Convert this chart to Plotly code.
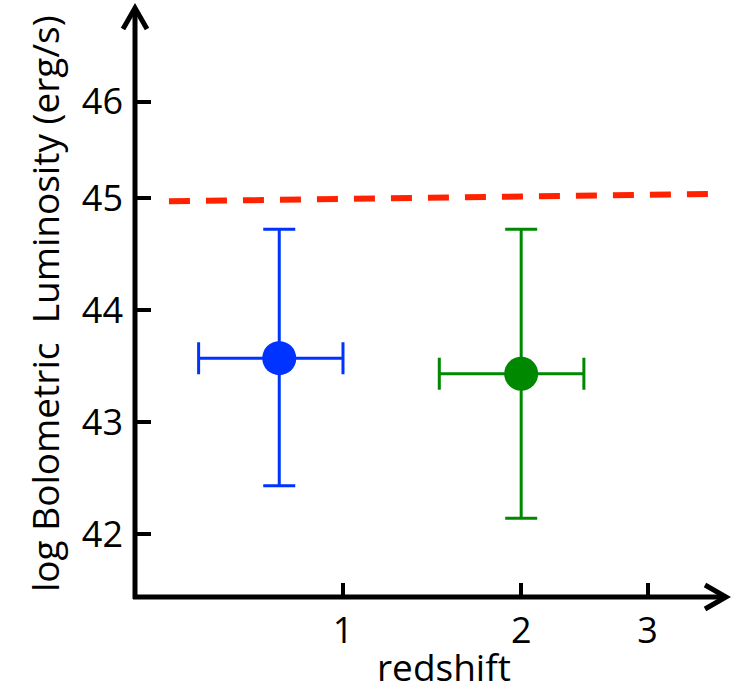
import math
import plotly.graph_objects as go

# ---- data ----
redshift = [0.73, 2.0]
redshift_lo = [0.44, 1.49]
redshift_hi = [1.0, 2.46]
log_lbol = [43.57, 43.43]
log_lbol_lo = [42.43, 42.14]
log_lbol_hi = [44.72, 44.72]
colors = ["rgb(0,51,255)", "rgb(0,136,0)"]

limit_z = [0.346, 3.62]
limit_l = [44.97, 45.035]

xtick_z = [1, 2, 3]
xtick_text = ["1", "2", "3"]
ytick_vals = [42, 43, 44, 45, 45.86]
ytick_text = ["42", "43", "44", "45", "46"]

x_title = "redshift"
y_title = "log Bolometric  Luminosity (erg/s)"

# ---- layout geometry (pixels) ----
W, H = 731, 694
L, R, T, B = 135, 4, 8, 97
X0, X1, Y0, Y1 = L, W - R, T, H - B
XR = [0.0955, 0.6805]          # log10(1+z) range
YR = [41.4375, 46.696]


def px(x, y):
    return (x - X0) / (X1 - X0), (Y1 - y) / (Y1 - Y0)


FONT = "Open Sans"
fig = go.Figure()

# upper-limit dashed line
fig.add_trace(go.Scatter(
    x=[1 + z for z in limit_z], y=limit_l, mode="lines",
    line=dict(color="rgb(255,34,0)", width=6, dash="21px,16px"),
    showlegend=False, hoverinfo="skip"))

for i in range(len(redshift)):
    xc = 1 + redshift[i]
    fig.add_trace(go.Scatter(
        x=[xc], y=[log_lbol[i]], mode="markers",
        marker=dict(size=34, color=colors[i]),
        error_x=dict(type="data", symmetric=False,
                     array=[redshift_hi[i] - redshift[i]],
                     arrayminus=[redshift[i] - redshift_lo[i]],
                     color=colors[i], thickness=3, width=16),
        error_y=dict(type="data", symmetric=False,
                     array=[log_lbol_hi[i] - log_lbol[i]],
                     arrayminus=[log_lbol[i] - log_lbol_lo[i]],
                     color=colors[i], thickness=3, width=16),
        showlegend=False, cliponaxis=False))

shapes = []
def seg(pts, width=5):
    d = ""
    for k, (x, y) in enumerate(pts):
        a, b = px(x, y)
        d += ("M" if k == 0 else "L") + f"{a},{b} "
    shapes.append(dict(type="path", path=d.strip(), xref="paper", yref="paper",
                       line=dict(color="black", width=width), layer="above"))

# axes with arrow heads
seg([(135, 599), (135, 9)])
seg([(133, 597), (725, 597)])
seg([(123, 29), (135, 8), (147, 29)])
seg([(705, 585), (726, 597), (705, 609)])

ax_, ay_ = px(444, 666)
bx_, by_ = px(44, 304)
annotations = [
    dict(text=x_title, x=ax_, y=ay_, xref="paper", yref="paper",
         xanchor="center", yanchor="middle", showarrow=False,
         font=dict(family=FONT, size=37, color="black")),
    dict(text=y_title, x=bx_, y=by_, xref="paper", yref="paper",
         xanchor="center", yanchor="middle", showarrow=False, textangle=-90,
         font=dict(family=FONT, size=37, color="black")),
]

fig.update_layout(
    width=W, height=H,
    margin=dict(l=L, r=R, t=T, b=B, pad=0),
    paper_bgcolor="white", plot_bgcolor="white",
    shapes=shapes, annotations=annotations,
    font=dict(family=FONT, color="black", size=36),
    xaxis=dict(type="log", range=XR, showgrid=False, zeroline=False, showline=False,
               tickvals=[1 + z for z in xtick_z], ticktext=xtick_text,
               ticks="inside", ticklen=14, tickwidth=4, tickcolor="black",
               tickfont=dict(family=FONT, size=36), ticklabelstandoff=9),
    yaxis=dict(range=YR, showgrid=False, zeroline=False, showline=False,
               tickvals=ytick_vals, ticktext=ytick_text,
               ticks="inside", ticklen=16, tickwidth=4, tickcolor="black",
               tickfont=dict(family=FONT, size=36), ticklabelstandoff=11),
)

fig.write_html("out.html")
